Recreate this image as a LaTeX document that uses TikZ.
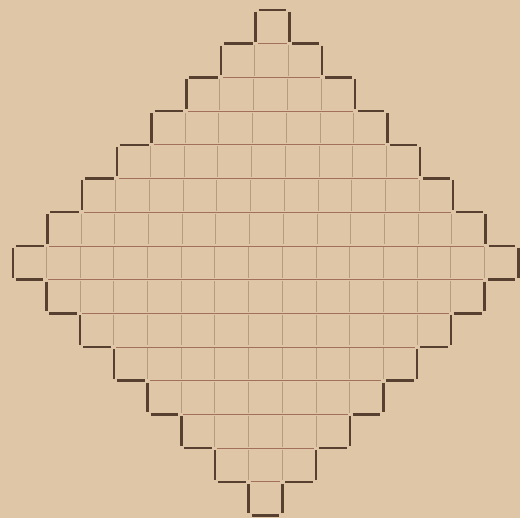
\documentclass[tikz,border=0pt]{standalone}
\definecolor{paper}{HTML}{DFC6A6}
\definecolor{ink}{HTML}{57402F}
\definecolor{hline}{HTML}{A4705E}
\definecolor{vline}{HTML}{B49C80}
\begin{document}
\begin{tikzpicture}[x=1pt,y=-1pt,
  edge/.style={ink,line width=2.5pt},
  vin/.style={vline,line width=1pt},
  hin/.style={hline,line width=0.7pt}]
\fill[paper] (0,0) rectangle (520,518);
\useasboundingbox (0,0) rectangle (520,518);
\def\s{33.7}
\foreach \r in {1,...,15}{
  \pgfmathtruncatemacro\m{min(\r,16-\r)}
  \pgfmathtruncatemacro\n{2*\m-1}
  \pgfmathtruncatemacro\nm{\n-1}
  \pgfmathsetmacro\c{265.5+max(8-\r,0)}
  \pgfmathsetmacro\yt{10+(\r-1)*\s}
  \pgfmathsetmacro\yb{\yt+\s}
  \pgfmathsetmacro\xl{\c-\n*\s/2}
  \pgfmathsetmacro\xr{\c+\n*\s/2}
  % interior verticals
  \ifnum\n>1
    \foreach \k in {1,...,\nm}{
      \draw[vin] (\xl+\k*\s,\yt+1.5) -- (\xl+\k*\s,\yb-1.5);
    }
  \fi
  % outer sides
  \draw[edge] (\xl,\yt+2) -- (\xl,\yb-2);
  \draw[edge] (\xr,\yt+2) -- (\xr,\yb-2);
  % top edges (upper half)
  \ifnum\r<9
    \ifnum\r=1
      \draw[edge] (\xl+3,\yt) -- (\xr-3,\yt);
    \else
      \pgfmathsetmacro\cp{265.5+max(9-\r,0)}
      \pgfmathsetmacro\pl{\cp-(\n-2)*\s/2}
      \pgfmathsetmacro\pr{\cp+(\n-2)*\s/2}
      \draw[edge] (\xl+3,\yt) -- (\pl-3,\yt);
      \draw[edge] (\pr+3,\yt) -- (\xr-3,\yt);
      \draw[hin] (\pl+2,\yt) -- (\pr-2,\yt);
    \fi
  \fi
  % bottom edges (lower half)
  \ifnum\r>7
    \ifnum\r=15
      \draw[edge] (\xl+3,\yb) -- (\xr-3,\yb);
    \else
      \pgfmathsetmacro\nl{265.5-(\n-2)*\s/2}
      \pgfmathsetmacro\nr{265.5+(\n-2)*\s/2}
      \draw[edge] (\xl+3,\yb) -- (\nl-3,\yb);
      \draw[edge] (\nr+3,\yb) -- (\xr-3,\yb);
      \draw[hin] (\nl+2,\yb) -- (\nr-2,\yb);
    \fi
  \fi
}
\end{tikzpicture}
\end{document}
